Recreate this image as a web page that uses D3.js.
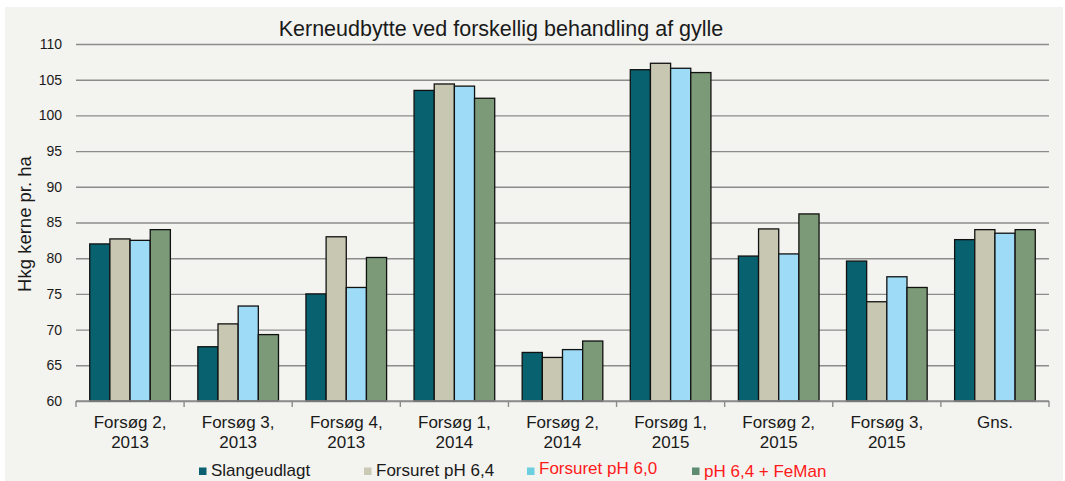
<!DOCTYPE html>
<html>
<head>
<meta charset="utf-8">
<script src="https://cdn.jsdelivr.net/npm/d3@7"></script>
<style>
  html, body { margin: 0; padding: 0; background: #ffffff; }
  svg { display: block; font-family: "Liberation Sans", Arial, sans-serif; }
</style>
</head>
<body>
<svg id="chart" width="1065" height="481"></svg>
<script>
const title = "Kerneudbytte ved forskellig behandling af gylle";
const yTitle = "Hkg kerne pr. ha";
const categories = ["Forsøg 2,\n2013", "Forsøg 3,\n2013", "Forsøg 4,\n2013", "Forsøg 1,\n2014", "Forsøg 2,\n2014", "Forsøg 1,\n2015", "Forsøg 2,\n2015", "Forsøg 3,\n2015", "Gns."];
const seriesNames = ["Slangeudlagt", "Forsuret pH 6,4", "Forsuret pH 6,0", "pH 6,4 + FeMan"];
const slangeudlagt = [82.0, 67.6, 75.0, 103.5, 66.8, 106.4, 80.3, 79.6, 82.6];
const forsuret64   = [82.7, 70.8, 83.0, 104.4, 66.1, 107.3, 84.1, 73.9, 84.0];
const forsuret60   = [82.5, 73.3, 75.9, 104.1, 67.2, 106.6, 80.6, 77.4, 83.5];
const feman        = [84.0, 69.3, 80.1, 102.4, 68.4, 106.0, 86.2, 75.9, 84.0];
const yTicks = [60, 65, 70, 75, 80, 85, 90, 95, 100, 105, 110];

const barColors = ["#08616f", "#c8c8b2", "#9ddbf7", "#7d9a78"];
const legendColors = ["#0a6070", "#c9c9b5", "#6ccfe0", "#5f8c70"];
const legendTextColors = ["#1a1a1a", "#1a1a1a", "#ff1a1a", "#ff1a1a"];

const seriesValues = [slangeudlagt, forsuret64, forsuret60, feman];

const svg = d3.select("#chart");

// panel background
svg.append("rect").attr("x", 5).attr("y", 7).attr("width", 1058).attr("height", 480)
  .attr("fill", "#f3f3ef");

const plotL = 76, plotR = 1049, plotT = 44, plotB = 401;

const y = d3.scaleLinear().domain([60, 110]).range([plotB, plotT]);
const x0 = d3.scaleBand().domain(categories).range([plotL, plotR]).padding(0);
const pad = x0.bandwidth() * 0.127;
const x1 = d3.scaleBand().domain(seriesNames).range([pad, x0.bandwidth() - pad]).padding(0);

// gridlines
const grid = svg.append("g").attr("transform", `translate(${plotL},0)`)
  .call(d3.axisLeft(y).tickValues(yTicks).tickSize(-(plotR - plotL)).tickFormat(""));
grid.select(".domain").remove();
grid.selectAll("line").attr("stroke", "#8c8c8c").attr("stroke-width", 1.4);

// y tick labels
const yAx = svg.append("g").attr("transform", `translate(${plotL},0)`)
  .call(d3.axisLeft(y).tickValues(yTicks).tickSize(0).tickPadding(14));
yAx.select(".domain").remove();
yAx.selectAll("text").attr("font-size", 14).attr("fill", "#1a1a1a")
  .attr("font-family", "Liberation Sans, Arial, sans-serif");

// bars
const groups = svg.append("g").selectAll("g").data(categories).join("g")
  .attr("transform", d => `translate(${x0(d)},0)`);
groups.selectAll("rect")
  .data((d, i) => seriesNames.map((s, k) => ({ s, k, v: seriesValues[k][i] })))
  .join("rect")
  .attr("x", d => x1(d.s))
  .attr("width", x1.bandwidth())
  .attr("y", d => y(d.v))
  .attr("height", d => y(60) - y(d.v))
  .attr("fill", d => barColors[d.k])
  .attr("stroke", "#111")
  .attr("stroke-width", 1.3);

// x axis line and boundary ticks
svg.append("line").attr("x1", plotL).attr("x2", plotR).attr("y1", plotB).attr("y2", plotB)
  .attr("stroke", "#8c8c8c").attr("stroke-width", 1.4);
const bounds = categories.map(c => x0(c)).concat([x0(categories[categories.length - 1]) + x0.bandwidth()]);
svg.append("g").selectAll("line").data(bounds).join("line")
  .attr("x1", d => d).attr("x2", d => d).attr("y1", plotB).attr("y2", plotB + 6)
  .attr("stroke", "#8c8c8c").attr("stroke-width", 1.4);

// category labels
const xl = svg.append("g").selectAll("text").data(categories).join("text")
  .attr("x", d => x0(d) + x0.bandwidth() / 2)
  .attr("y", 428)
  .attr("text-anchor", "middle")
  .attr("font-size", 17)
  .attr("fill", "#1a1a1a");
xl.selectAll("tspan").data(d => d.split("\n")).join("tspan")
  .attr("x", function() { return d3.select(this.parentNode).attr("x"); })
  .attr("dy", (d, i) => i === 0 ? 0 : 20)
  .text(d => d);

// title
svg.append("text").attr("x", 501).attr("y", 36).attr("text-anchor", "middle")
  .attr("font-size", 21.5).attr("fill", "#1a1a1a").text(title);

// y title
svg.append("text").attr("transform", "translate(31,224) rotate(-90)")
  .attr("text-anchor", "middle").attr("font-size", 18.5).attr("fill", "#1a1a1a").text(yTitle);

// legend
const legendSwatchX = [199, 364, 527, 692];
const legendBase = [476, 476, 474, 476.5];
const lg = svg.append("g").selectAll("g").data(seriesNames).join("g");
lg.append("rect")
  .attr("x", (d, i) => legendSwatchX[i]).attr("y", 467.5)
  .attr("width", 7.5).attr("height", 7.5)
  .attr("fill", (d, i) => legendColors[i]);
lg.append("text")
  .attr("x", (d, i) => legendSwatchX[i] + 12).attr("y", (d, i) => legendBase[i])
  .attr("font-size", 17)
  .attr("fill", (d, i) => legendTextColors[i])
  .text(d => d);
</script>
</body>
</html>
